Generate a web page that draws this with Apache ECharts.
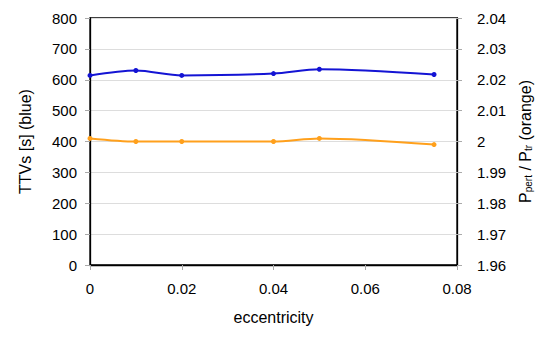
<!DOCTYPE html>
<html>
<head>
<meta charset="utf-8">
<script src="https://cdn.jsdelivr.net/npm/echarts@6/dist/echarts.min.js"></script>
<style>
  html, body { margin: 0; padding: 0; background: #fff; }
  #chart { width: 545px; height: 337px; }
</style>
</head>
<body>
<div id="chart"></div>
<script>
  // values
  const eccentricity = [0, 0.01, 0.02, 0.04, 0.05, 0.075];
  const ttvs = [614, 630, 614, 620, 634, 617];
  const periodRatio = [2.001, 2.0, 2.0, 2.0, 2.001, 1.999];

  const font = 'Liberation Sans, Arial, Helvetica, sans-serif';

  const chart = echarts.init(document.getElementById('chart'), null, { renderer: 'svg' });

  const tickStyle = { show: true, length: 5, inside: false, lineStyle: { color: '#aaa' } };
  const labelStyle = { color: '#000', fontSize: 15, fontFamily: font };
  const nameStyle = { color: '#000', fontSize: 16, fontFamily: font };

  chart.setOption({
    animation: false,
    grid: {
      left: 90, right: 88, top: 18, bottom: 72,
      show: true, borderColor: '#000', borderWidth: 1.3
    },
    xAxis: {
      type: 'value',
      min: 0, max: 0.08, interval: 0.02,
      name: 'eccentricity',
      nameLocation: 'middle',
      nameGap: 44,
      nameTextStyle: nameStyle,
      axisLine: { show: true, lineStyle: { color: '#000', width: 1.3 } },
      axisTick: tickStyle,
      axisLabel: Object.assign({ margin: 16 }, labelStyle),
      splitLine: { show: false }
    },
    yAxis: [
      {
        type: 'value',
        min: 0, max: 800, interval: 100,
        name: 'TTVs [s] (blue)',
        nameLocation: 'middle',
        nameGap: 57,
        nameRotate: 90,
        nameTextStyle: nameStyle,
        axisLine: { show: true, lineStyle: { color: '#000', width: 1.3 } },
        axisTick: tickStyle,
        axisLabel: Object.assign({ margin: 13 }, labelStyle),
        splitLine: { show: true, lineStyle: { color: '#ddd', width: 1 } }
      },
      {
        type: 'value',
        min: 1.96, max: 2.04, interval: 0.01,
        position: 'right',
        name: '{p|P}{s|pert}{p| / P}{s|tr}{p| (orange)}',
        nameLocation: 'middle',
        nameGap: 54,
        nameRotate: 90,
        nameTextStyle: Object.assign({
          rich: {
            p: { color: '#000', fontSize: 16, fontFamily: font },
            s: { color: '#000', fontSize: 10, fontFamily: font, verticalAlign: 'bottom', padding: [7, 0, 0, 0] }
          }
        }, nameStyle),
        axisLine: { show: true, lineStyle: { color: '#000', width: 1.3 } },
        axisTick: tickStyle,
        axisLabel: Object.assign({
          margin: 20,
          formatter: v => String(parseFloat(v.toFixed(2)))
        }, labelStyle),
        splitLine: { show: false }
      }
    ],
    series: [
      {
        name: 'TTVs',
        type: 'line',
        yAxisIndex: 0,
        smooth: 0.3,
        symbol: 'circle',
        symbolSize: 5,
        lineStyle: { color: '#1414d4', width: 2 },
        itemStyle: { color: '#1414d4' },
        data: eccentricity.map((e, i) => [e, ttvs[i]])
      },
      {
        name: 'Pratio',
        type: 'line',
        yAxisIndex: 1,
        smooth: 0.3,
        symbol: 'circle',
        symbolSize: 5,
        lineStyle: { color: '#ffa01c', width: 2 },
        itemStyle: { color: '#ffa01c' },
        data: eccentricity.map((e, i) => [e, periodRatio[i]])
      }
    ]
  });
</script>
</body>
</html>
